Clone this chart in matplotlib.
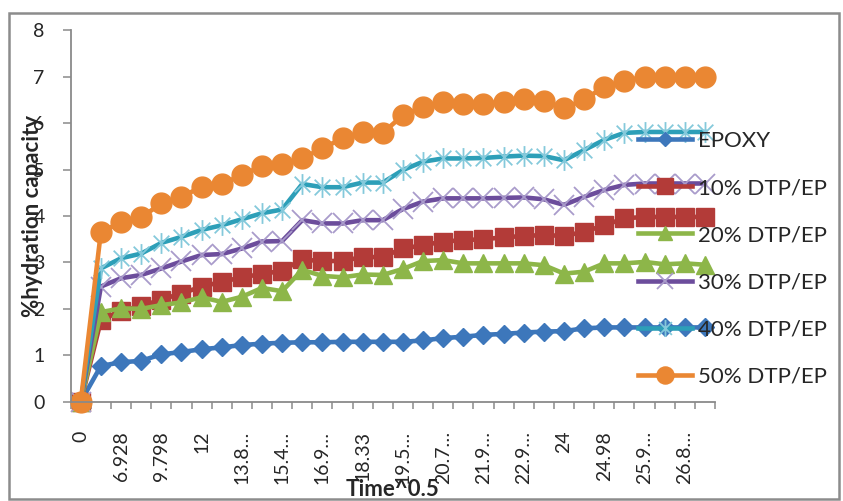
import numpy as np
import matplotlib
matplotlib.use("Agg")
import matplotlib.pyplot as plt
from matplotlib.path import Path
from matplotlib.patches import Rectangle

plt.rcParams['font.family'] = ['Lato', 'DejaVu Sans']

# ---------------- data ----------------
tick_labels = ['0', '6.928', '9.798', '12', '13.8…', '15.4…', '16.9…', '18.33',
               '19.5…', '20.7…', '21.9…', '22.9…', '24', '24.98', '25.9…', '26.8…']

epoxy = [0, 0.77, 0.85, 0.88, 1.02, 1.07, 1.13, 1.17, 1.22, 1.25, 1.27, 1.28, 1.28, 1.29,
         1.29, 1.29, 1.29, 1.32, 1.37, 1.40, 1.44, 1.46, 1.49, 1.51, 1.52, 1.58, 1.60, 1.60,
         1.60, 1.60, 1.60, 1.60]
dtp10 = [0, 1.75, 1.96, 2.06, 2.20, 2.33, 2.48, 2.58, 2.68, 2.75, 2.82, 3.07, 3.02, 3.04,
         3.11, 3.12, 3.30, 3.37, 3.45, 3.48, 3.50, 3.54, 3.57, 3.59, 3.57, 3.66, 3.80, 3.95,
         3.98, 3.98, 3.98, 3.98]
dtp20 = [0, 1.93, 2.01, 2.00, 2.08, 2.14, 2.25, 2.15, 2.26, 2.45, 2.38, 2.84, 2.71, 2.68,
         2.74, 2.73, 2.86, 3.03, 3.05, 2.98, 2.98, 2.98, 2.98, 2.94, 2.76, 2.80, 2.98, 2.98,
         3.01, 2.96, 2.98, 2.95]
dtp30 = [0, 2.48, 2.66, 2.73, 2.87, 3.02, 3.16, 3.18, 3.30, 3.45, 3.46, 3.91, 3.84, 3.84,
         3.91, 3.91, 4.15, 4.31, 4.38, 4.38, 4.38, 4.39, 4.40, 4.36, 4.24, 4.41, 4.56, 4.67,
         4.70, 4.70, 4.70, 4.70]
dtp40 = [0, 2.87, 3.09, 3.19, 3.42, 3.55, 3.70, 3.80, 3.93, 4.06, 4.14, 4.69, 4.62, 4.62,
         4.72, 4.72, 4.99, 5.17, 5.24, 5.24, 5.25, 5.28, 5.30, 5.29, 5.20, 5.42, 5.64, 5.79,
         5.81, 5.81, 5.81, 5.81]
dtp50 = [0, 3.66, 3.86, 3.97, 4.27, 4.41, 4.63, 4.69, 4.88, 5.08, 5.12, 5.24, 5.46, 5.67,
         5.81, 5.79, 6.17, 6.35, 6.46, 6.42, 6.42, 6.46, 6.53, 6.48, 6.32, 6.51, 6.78, 6.91,
         7.00, 7.00, 7.00, 7.00]
series_names = ['EPOXY', '10% DTP/EP', '20% DTP/EP', '30% DTP/EP', '40% DTP/EP', '50% DTP/EP']

# ---------------- figure ----------------
W, H = 843, 501
fig = plt.figure(figsize=(W / 100, H / 100), dpi=100)
fig.patch.set_facecolor('white')

x0, x1, ytop, ybot = 70.7, 715, 30.3, 401.7
ax = fig.add_axes([x0 / W, 1 - ybot / H, (x1 - x0) / W, (ybot - ytop) / H])

n = len(epoxy)
x = np.arange(n)

# Asterisk marker (vertical bar + X)
d = 0.75
star = Path([(0, -1), (0, 1), (-d, -d), (d, d), (-d, d), (d, -d)],
            [Path.MOVETO, Path.LINETO, Path.MOVETO, Path.LINETO, Path.MOVETO, Path.LINETO])

styles = [
    dict(color='#3D77BB', marker='D', ms=9, mfc='#3D77BB', mec='#3D77BB', lw=3.3),
    dict(color='#B33B38', marker='s', ms=13.5, mfc='#B33B38', mec='#B33B38', lw=3.3),
    dict(color='#8DB649', marker='^', ms=13, mfc='#8DB649', mec='#8DB649', lw=3.3),
    dict(color='#6C4D9C', marker='x', ms=14, mfc='none', mec='#A99BCB', mew=1.3, lw=3.3),
    dict(color='#2D9FB8', marker=star, ms=15, mfc='none', mec='#84C9DB', mew=1.3, lw=3.3),
    dict(color='#EA8733', marker='o', ms=15, mfc='#EA8733', mec='#EA8733', lw=3.3),
]
data = [epoxy, dtp10, dtp20, dtp30, dtp40, dtp50]
for vals, name, st in zip(data, series_names, styles):
    ax.plot(x, vals, label=name, clip_on=False, solid_joinstyle='round', **st)

ax.set_xlim(-0.5, n - 0.5)
ax.set_ylim(0, 8)

for s in ['top', 'right']:
    ax.spines[s].set_visible(False)
for s in ['left', 'bottom']:
    ax.spines[s].set_color('#8A8A8A')
    ax.spines[s].set_linewidth(1.3)

ax.set_yticks(range(0, 9))
ax.tick_params(axis='y', direction='out', length=5.8, width=1.1, color='#8A8A8A',
               pad=13, labelsize=14, labelcolor='#262626')

ax.set_xticks(np.arange(0, n, 2))
ax.set_xticklabels(tick_labels, rotation=90)
ax.set_xticks(np.arange(-0.5, n, 1), minor=True)
ax.tick_params(axis='x', which='major', length=0, pad=21, labelsize=14, labelcolor='#262626')
ax.tick_params(axis='x', which='minor', direction='out', length=5, width=1.1, color='#8A8A8A')

fig.text(33 / W, 1 - 216 / H, '%hydration capacity', rotation=90, ha='center', va='center',
         fontsize=16, fontweight='bold', color='#262626')
fig.text(393 / W, 1 - 489 / H, 'Time^0.5', ha='center', va='center',
         fontsize=16, fontweight='bold', color='#262626')

leg = ax.legend(loc='upper left', bbox_to_anchor=(638 / W, 1 - 131 / H),
                bbox_transform=fig.transFigure, frameon=False, fontsize=16,
                handlelength=2.45, handletextpad=0.25, labelspacing=1.22,
                borderpad=0, borderaxespad=0, numpoints=1, markerscale=0.82)
for t in leg.get_texts():
    t.set_color('#262626')

fig.patches.append(Rectangle((9 / W, 1 - 499 / H), (839 - 9) / W, (499 - 13) / H,
                             transform=fig.transFigure, fill=False,
                             edgecolor='#8C8C8C', linewidth=1.8))

fig.savefig('out.png', dpi=100)
